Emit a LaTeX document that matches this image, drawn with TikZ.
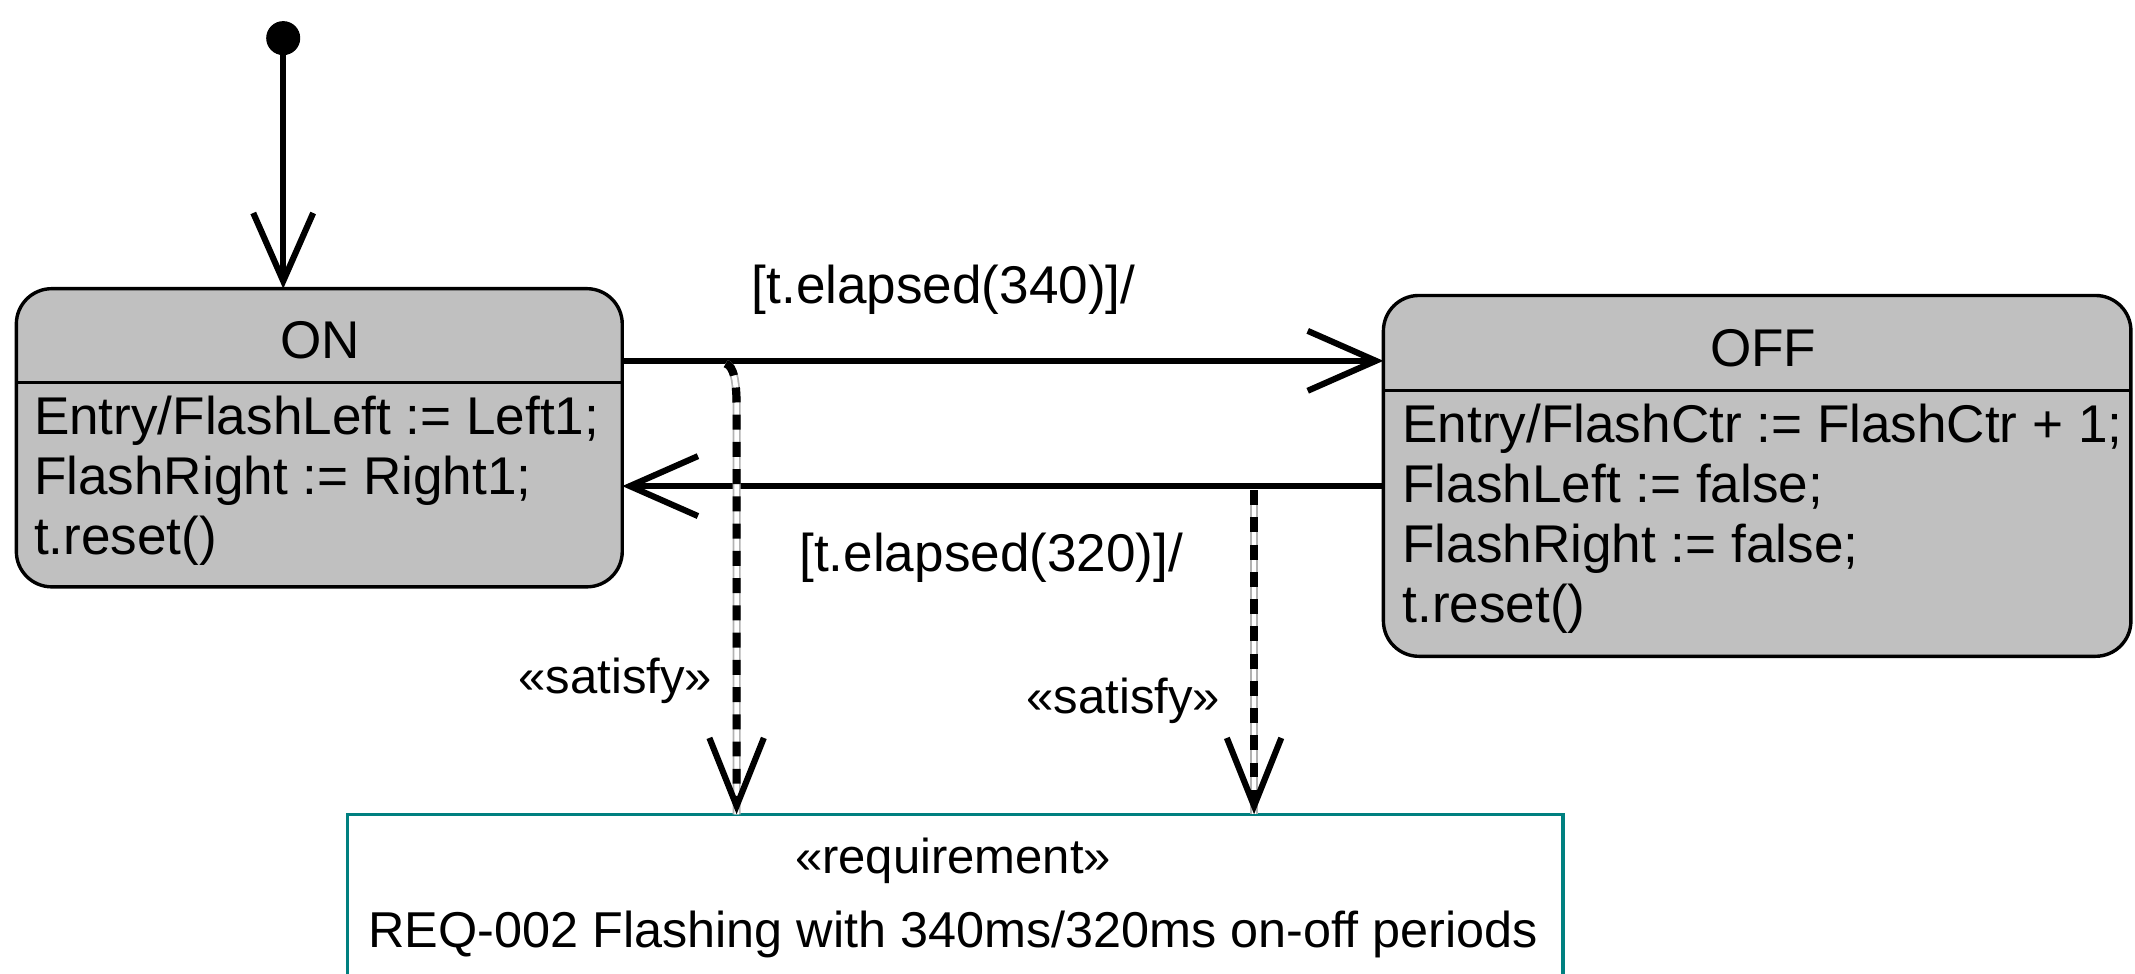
\documentclass[tikz,border=0pt]{standalone}
\usepackage{fontspec}
\setmainfont{Liberation Sans}
\usetikzlibrary{arrows.meta}
\definecolor{stategray}{RGB}{192,192,192}
\definecolor{reqteal}{RGB}{0,128,128}
\begin{document}
\begin{tikzpicture}[x=1pt,y=-1pt,
  every node/.style={inner sep=0pt,outer sep=0pt},
  bigtext/.style={font=\fontsize{39}{44}\selectfont},
  midtext/.style={font=\fontsize{36}{42}\selectfont},
  reqtext/.style={font=\fontsize{37}{42}\selectfont},
  statebox/.style={draw=black,line width=2.5pt,fill=stategray,rounded corners=26pt},
  divider/.style={draw=black,line width=2.5pt},
  trans/.style={draw=black,line width=4.5pt,
    -{Straight Barb[length=50pt,width=44pt,line width=4.5pt]}},
  satisfy/.style={draw=black,line width=6pt,dash pattern=on 11pt off 9pt,
    preaction={draw=gray!60,line width=6pt,solid,arrows=-},
    preaction={draw=white,line width=3.4pt,solid,arrows=-},
    -{Straight Barb[length=50pt,width=40pt,line width=4.5pt]}},
  reqbox/.style={draw=reqteal,line width=2.5pt,fill=white}
]
\useasboundingbox (0,0) rectangle (1568,715);
\clip (0,0) rectangle (1568,715);

% initial pseudo-state
\node[circle,fill=black,minimum size=25pt] (init) at (208,28) {};

% state ON
\node[statebox,minimum width=445pt,minimum height=219pt] (on) at (234.5,321.5) {};
\draw[divider] (on.west |- 0,281) -- (on.east |- 0,281);
\node[bigtext] (ontitle) at (235,250) {ON};
\node[bigtext,anchor=base west] (on1) at (25,319) {Entry/FlashLeft := Left1;};
\node[bigtext,anchor=base west] (on2) at (25,363) {FlashRight := Right1;};
\node[bigtext,anchor=base west] (on3) at (25,407) {t.reset()};

% state OFF
\node[statebox,minimum width=549pt,minimum height=265pt] (off) at (1290.5,349.5) {};
\draw[divider] (off.west |- 0,287) -- (off.east |- 0,287);
\node[bigtext] (offtitle) at (1295,256) {OFF};
\node[bigtext,anchor=base west] (off1) at (1030,325) {Entry/FlashCtr := FlashCtr + 1;};
\node[bigtext,anchor=base west] (off2) at (1030,369) {FlashLeft := false;};
\node[bigtext,anchor=base west] (off3) at (1030,413) {FlashRight := false;};
\node[bigtext,anchor=base west] (off4) at (1030,457) {t.reset()};

% requirement
\node[reqbox,minimum width=893pt,minimum height=130pt,anchor=north] (req) at (701.5,598) {};
\node[midtext] (reqstereo) at (700,632) {«requirement»};
\node[reqtext] (reqname) at (700,686) {REQ-002 Flashing with 340ms/320ms on-off periods};

% transitions
\draw[trans] (init) -- (init |- on.north);
\draw[trans] (on.east |- 0,265) -- (off.west |- 0,265);
\draw[trans] (off.west |- 0,357) -- (on.east |- 0,357);
\node[bigtext] (g340) at (693,213) {[t.elapsed(340)]/};
\node[bigtext] (g320) at (728,410) {[t.elapsed(320)]/};

% satisfy dependencies
\coordinate (s1) at (533,267);
\coordinate (s2) at (921,360);
\draw[satisfy] (s1) .. controls (539,269) and (541,280) .. (541,300) -- (req.north -| 541,0);
\draw[satisfy] (s2) -- (req.north -| s2);
\node[midtext] (sat1) at (452,500) {«satisfy»};
\node[midtext] (sat2) at (825,515) {«satisfy»};
\end{tikzpicture}
\end{document}
